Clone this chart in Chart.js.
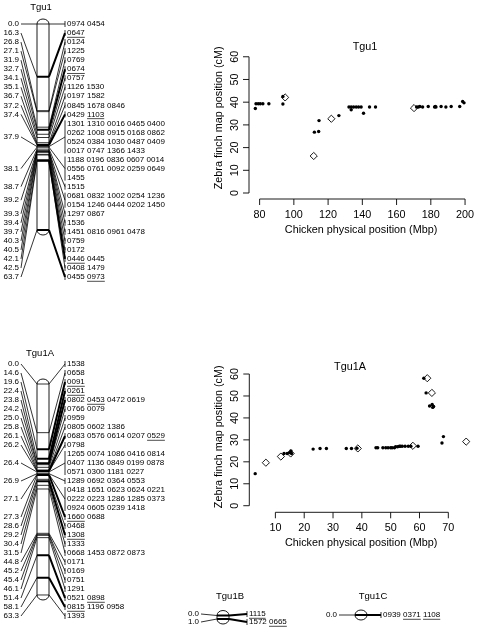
<!DOCTYPE html>
<html>
<head>
<meta charset="utf-8">
<script src="https://cdn.jsdelivr.net/npm/chart.js@4.4.0/dist/chart.umd.min.js"></script>
<style>
html, body { margin: 0; padding: 0; background: #fff; }
#page { position: relative; width: 478px; height: 628px; overflow: hidden; }
.box { position: absolute; }
</style>
</head>
<body>
<div id="page">
  <div class="box" style="left:0;top:0;width:175px;height:290px"><canvas id="mapTgu1"></canvas></div>
  <div class="box" style="left:0;top:340px;width:175px;height:288px"><canvas id="mapTgu1A"></canvas></div>
  <div class="box" style="left:180px;top:585px;width:130px;height:43px"><canvas id="mapTgu1B"></canvas></div>
  <div class="box" style="left:318px;top:585px;width:160px;height:43px"><canvas id="mapTgu1C"></canvas></div>
  <div class="box" style="left:180px;top:20px;width:298px;height:230px"><canvas id="plotTgu1"></canvas></div>
  <div class="box" style="left:180px;top:350px;width:298px;height:230px"><canvas id="plotTgu1A"></canvas></div>
</div>
<script>
// ---- linkage map data (cM positions and the markers at each) ----
const tgu1Positions = [0.0, 16.3, 26.8, 27.1, 31.9, 32.7, 34.1, 35.1, 36.7, 37.2, 37.4, 37.9, 38.1, 38.7,
  39.2, 39.3, 39.4, 39.7, 40.3, 40.5, 42.1, 42.5, 63.7];
const tgu1Markers = [
  ['0974', '0454'], ['0647'], ['0124'], ['1225'], ['0769'], ['0674'], ['0757'], ['1126', '1530'],
  ['0197', '1582'], ['0845', '1678', '0846'], ['0429', '1103'],
  ['1301', '1310', '0016', '0465', '0400', '0262', '1008', '0915', '0168', '0862',
   '0524', '0384', '1030', '0487', '0409', '0017', '0747', '1366', '1433'],
  ['1188', '0196', '0836', '0607', '0014', '0556', '0761', '0092', '0259', '0649', '1455'],
  ['1515'],
  ['0681', '0832', '1002', '0254', '1236', '0154', '1246', '0444', '0202', '1450'],
  ['1297', '0867'], ['1536'], ['1451', '0816', '0961', '0478'], ['0759'], ['0172'],
  ['0446', '0445'], ['0408', '1479'], ['0455', '0973']
];
const tgu1Framework = ['0647', '0674', '1103', '0446', '0973'];

const tgu1aPositions = [0.0, 14.6, 19.6, 22.4, 23.8, 24.2, 25.0, 25.8, 26.1, 26.2, 26.4, 26.9, 27.1,
  27.3, 28.6, 29.2, 30.4, 31.5, 44.8, 45.2, 45.4, 46.1, 51.4, 58.1, 63.3];
const tgu1aMarkers = [
  ['1538'], ['0658'], ['0091'], ['0261'], ['0802', '0453', '0472', '0619'], ['0766', '0079'], ['0959'],
  ['0805', '0602', '1386'], ['0683', '0576', '0614', '0207', '0529'], ['0798'],
  ['1265', '0074', '1086', '0416', '0814', '0407', '1136', '0849', '0199', '0878', '0571', '0300', '1181', '0227'],
  ['1289', '0692', '0364', '0553'],
  ['0418', '1651', '0623', '0624', '0221', '0222', '0223', '1286', '1285', '0373', '0924', '0605', '0239', '1418'],
  ['1660', '0688'], ['0468'], ['1308'], ['1333'], ['0668', '1453', '0872', '0873'], ['0171'], ['0169'],
  ['0751'], ['1291'], ['0521', '0898'], ['0815', '1196', '0958'], ['1393']
];
const tgu1aFramework = ['0091', '0261', '0453', '0529', '1660', '1308', '0898', '0815'];

const tgu1bPositions = [0.0, 1.0];
const tgu1bMarkers = [['1115'], ['1572', '0665']];
const tgu1bFramework = ['1115', '0665'];

const tgu1cPositions = [0.0];
const tgu1cMarkers = [['0939', '0371', '1108']];
const tgu1cFramework = ['0371', '1108'];

// ---- comparative plots: chicken Mbp vs zebra finch cM ----
const tgu1DotMbp = [77.5, 77.9, 79.2, 80.4, 81.9, 85.4, 93.6, 93.6, 112.0, 114.5, 114.7, 126.3, 132.2, 133.5,
  133.5, 134.9, 136.4, 137.8, 139.3, 140.7, 144.2, 147.7, 171.7, 172.7, 173.6, 175.2, 178.5, 182.2, 182.6,
  183.0, 186.0, 188.8, 191.9, 196.9, 198.6, 199.4];
const tgu1DotCm = [37.2, 39.3, 39.3, 39.3, 39.3, 39.3, 39.2, 42.5, 26.8, 27.1, 31.9, 34.1, 37.9, 37.9,
  36.7, 37.9, 37.9, 37.9, 37.9, 35.1, 37.9, 37.9, 37.9, 37.9, 38.1, 37.9, 38.1, 37.9, 38.1,
  37.9, 38.1, 37.9, 38.1, 38.1, 40.3, 39.7];
const tgu1FrameMbp = [94.9, 111.6, 121.9, 170.2];
const tgu1FrameCm = [42.1, 16.3, 32.7, 37.4];

const tgu1aDotMbp = [3.0, 13.0, 14.1, 14.9, 15.4, 15.6, 23.1, 25.5, 27.7, 34.6, 36.4, 38.3, 44.9, 45.5, 47.3,
  48.3, 49.1, 50.0, 50.5, 51.3, 51.7, 52.4, 53.0, 53.4, 54.0, 55.0, 56.1, 57.0, 59.5, 67.8, 68.3,
  61.5, 62.3, 63.5, 64.4, 64.6, 64.9];
const tgu1aDotCm = [14.6, 23.8, 23.8, 24.2, 25.0, 23.8, 25.8, 26.1, 26.1, 26.1, 26.1, 26.2, 26.4, 26.4, 26.4,
  26.4, 26.4, 26.4, 26.4, 26.4, 26.9, 26.9, 27.1, 27.1, 27.1, 27.1, 27.1, 27.1, 27.1, 28.6, 31.5,
  58.1, 51.4, 45.4, 46.1, 44.8, 45.2];
const tgu1aFrameMbp = [6.7, 11.9, 15.3, 38.6, 57.7, 62.7, 64.3, 76.2];
const tgu1aFrameCm = [19.6, 22.4, 23.8, 26.1, 27.3, 58.1, 51.4, 29.2];

const tgu1XTicks = [80, 100, 120, 140, 160, 180, 200];
const tgu1aXTicks = [10, 20, 30, 40, 50, 60, 70];
const cmTicks = [0, 10, 20, 30, 40, 50, 60];

const FONT = '"Liberation Sans", Arial, sans-serif';

// split each position's markers into rows of five names
function buildRows(positions, markers) {
  const rows = [];
  const groups = [];
  positions.forEach((p, i) => {
    const names = markers[i];
    const first = rows.length;
    for (let k = 0; k < names.length; k += 5) rows.push(names.slice(k, k + 5));
    groups.push({ cm: p, first: first, last: rows.length - 1 });
  });
  return { rows, groups };
}

function mapPlugin(cfg, built, framework) {
  return {
    id: 'linkageMap',
    afterDraw(chart) {
      const ctx = chart.ctx;
      const sx = chart.scales.x, sy = chart.scales.y, sr = chart.scales.yRow;
      const chrL = sx.getPixelForValue(cfg.chrLeft);
      const chrR = sx.getPixelForValue(cfg.chrLeft + 12);
      const chrC = (chrL + chrR) / 2;
      const bx = sx.getPixelForValue(cfg.textX - 2);
      const tx = sx.getPixelForValue(cfg.textX);
      const lx = sx.getPixelForValue(19);
      const fs = 8;
      const cms = built.groups.map(g => g.cm);
      const yTop = sy.getPixelForValue(Math.min(...cms));
      const yBot = sy.getPixelForValue(Math.max(...cms));
      const isFrame = g => cfg.markers[built.groups.indexOf(g)].some(m => framework.includes(m));
      ctx.save();
      ctx.strokeStyle = '#000';
      ctx.fillStyle = '#000';

      // left connectors
      ctx.lineWidth = 0.8;
      built.groups.forEach(g => {
        const ry = sr.getPixelForValue((g.first + g.last) / 2);
        ctx.beginPath();
        ctx.moveTo(lx + 2, ry);
        ctx.lineTo(chrL, sy.getPixelForValue(g.cm));
        ctx.stroke();
      });

      // chromosome body with rounded ends
      ctx.lineWidth = 0.9;
      ctx.beginPath();
      ctx.moveTo(chrL, yTop);
      ctx.lineTo(chrL, yBot);
      ctx.ellipse(chrC, yBot, 6, 5, 0, Math.PI, 0, true);
      ctx.lineTo(chrR, yTop);
      ctx.ellipse(chrC, yTop, 6, 5, 0, 0, Math.PI, true);
      ctx.fillStyle = '#fff';
      ctx.fill();
      ctx.stroke();
      ctx.fillStyle = '#000';

      // locus lines and right connectors
      built.groups.forEach(g => {
        const cy = sy.getPixelForValue(g.cm);
        const y1 = sr.getPixelForValue(g.first);
        const y2 = sr.getPixelForValue(g.last);
        const ry = (y1 + y2) / 2;
        const w = isFrame(g) ? 2 : 0.8;
        ctx.lineWidth = w;
        ctx.beginPath();
        ctx.moveTo(chrL, cy);
        ctx.lineTo(chrR, cy);
        ctx.moveTo(chrR, cy);
        ctx.lineTo(bx, ry);
        ctx.stroke();
        ctx.lineWidth = 0.8;
        ctx.beginPath();
        ctx.moveTo(bx, y1 - 3);
        ctx.lineTo(bx, y2 + 3);
        ctx.stroke();
      });

      // labels
      ctx.font = fs + 'px ' + FONT;
      ctx.textBaseline = 'middle';
      ctx.textAlign = 'right';
      built.groups.forEach(g => {
        ctx.fillText(g.cm.toFixed(1), lx, sr.getPixelForValue((g.first + g.last) / 2));
      });
      ctx.textAlign = 'left';
      const space = ctx.measureText(' ').width;
      ctx.lineWidth = 0.7;
      built.rows.forEach((row, i) => {
        const ry = sr.getPixelForValue(i);
        let x = tx;
        row.forEach(name => {
          const w = ctx.measureText(name).width;
          ctx.fillText(name, x, ry);
          if (framework.includes(name)) {
            ctx.beginPath();
            ctx.moveTo(x, ry + 4.3);
            ctx.lineTo(x + w, ry + 4.3);
            ctx.stroke();
          }
          x += w + space;
        });
      });

      // title
      ctx.font = '9.5px ' + FONT;
      ctx.textAlign = 'center';
      ctx.fillText(cfg.title, sx.getPixelForValue(cfg.titleX), cfg.titleY);
      ctx.restore();
    }
  };
}

function makeMap(id, cfg) {
  const built = buildRows(cfg.positions, cfg.markers);
  const n = built.rows.length;
  const areaTop = cfg.rowTop - cfg.rowStep / 2;
  const areaH = n * cfg.rowStep;
  const cmMin = -(cfg.cmZero - areaTop) / cfg.pxPerCm;
  const cmMax = cmMin + areaH / cfg.pxPerCm;
  new Chart(document.getElementById(id), {
    type: 'scatter',
    data: {
      datasets: [{
        data: cfg.positions.map(p => ({ x: cfg.chrLeft + 6, y: p })),
        pointRadius: 0,
        yAxisID: 'y'
      }]
    },
    options: {
      responsive: true,
      maintainAspectRatio: false,
      animation: false,
      events: [],
      layout: { padding: { top: areaTop, bottom: cfg.height - areaTop - areaH, left: 0, right: 0 } },
      plugins: { legend: { display: false }, tooltip: { enabled: false } },
      scales: {
        x: { type: 'linear', display: false, min: 0, max: cfg.width },
        y: { type: 'linear', display: false, reverse: true, min: cmMin, max: cmMax },
        yRow: { type: 'linear', axis: 'y', position: 'left', display: false, reverse: true, min: -0.5, max: n - 0.5 }
      }
    },
    plugins: [mapPlugin(cfg, built, cfg.framework)]
  });
}

makeMap('mapTgu1', {
  title: 'Tgu1', titleX: 41, titleY: 7, width: 175, height: 290,
  positions: tgu1Positions, markers: tgu1Markers, framework: tgu1Framework,
  rowTop: 24, rowStep: 9.036, cmZero: 24, pxPerCm: 3.234, chrLeft: 37, textX: 67
});
makeMap('mapTgu1A', {
  title: 'Tgu1A', titleX: 40, titleY: 13, width: 175, height: 288,
  positions: tgu1aPositions, markers: tgu1aMarkers, framework: tgu1aFramework,
  rowTop: 24, rowStep: 9.0, cmZero: 44, pxPerCm: 3.333, chrLeft: 37, textX: 67
});
makeMap('mapTgu1B', {
  title: 'Tgu1B', titleX: 50, titleY: 11, width: 130, height: 43,
  positions: tgu1bPositions, markers: tgu1bMarkers, framework: tgu1bFramework,
  rowTop: 29, rowStep: 8, cmZero: 30.5, pxPerCm: 3.5, chrLeft: 37, textX: 69
});
makeMap('mapTgu1C', {
  title: 'Tgu1C', titleX: 55, titleY: 11, width: 160, height: 43,
  positions: tgu1cPositions, markers: tgu1cMarkers, framework: tgu1cFramework,
  rowTop: 30, rowStep: 8, cmZero: 30, pxPerCm: 3.3, chrLeft: 37, textX: 65
});

// base-R style axes drawn from the chart scales
function rAxes(cfg) {
  return {
    id: 'rAxes',
    afterDraw(chart) {
      const ctx = chart.ctx, a = chart.chartArea;
      const sx = chart.scales.x, sy = chart.scales.y;
      ctx.save();
      ctx.strokeStyle = '#000';
      ctx.fillStyle = '#000';
      ctx.lineWidth = 0.9;
      ctx.font = '10.8px ' + FONT;
      // x axis
      const xa = cfg.xTicks.map(v => sx.getPixelForValue(v));
      ctx.beginPath();
      ctx.moveTo(xa[0], a.bottom);
      ctx.lineTo(xa[xa.length - 1], a.bottom);
      xa.forEach(p => { ctx.moveTo(p, a.bottom); ctx.lineTo(p, a.bottom + 6); });
      ctx.stroke();
      ctx.textAlign = 'center';
      ctx.textBaseline = 'middle';
      cfg.xTicks.forEach((v, i) => ctx.fillText(String(v), xa[i], a.bottom + 16));
      ctx.fillText('Chicken physical position (Mbp)', (a.left + a.right) / 2, a.bottom + 31);
      // y axis
      const ya = cmTicks.map(v => sy.getPixelForValue(v));
      ctx.beginPath();
      ctx.moveTo(a.left, ya[0]);
      ctx.lineTo(a.left, ya[ya.length - 1]);
      ya.forEach(p => { ctx.moveTo(a.left, p); ctx.lineTo(a.left - 6, p); });
      ctx.stroke();
      cmTicks.forEach((v, i) => {
        ctx.save();
        ctx.translate(a.left - 14, ya[i]);
        ctx.rotate(-Math.PI / 2);
        ctx.fillText(String(v), 0, 0);
        ctx.restore();
      });
      ctx.save();
      ctx.translate(a.left - 30, (a.top + a.bottom) / 2 + cfg.yTitleShift);
      ctx.rotate(-Math.PI / 2);
      ctx.fillText('Zebra finch map position (cM)', 0, 0);
      ctx.restore();
      // title inside the top of the plot
      ctx.fillText(cfg.title, a.left + cfg.titleDx, a.top + cfg.titleDy);
      ctx.restore();
    }
  };
}

function makePlot(id, cfg) {
  const dots = cfg.dotX.map((x, i) => ({ x: x, y: cfg.dotY[i] }));
  const frames = cfg.frameX.map((x, i) => ({ x: x, y: cfg.frameY[i] }));
  new Chart(document.getElementById(id), {
    type: 'scatter',
    data: {
      datasets: [
        { data: dots, pointStyle: 'circle', pointRadius: 1.7, backgroundColor: '#000', borderColor: '#000', borderWidth: 0 },
        { data: frames, pointStyle: 'rectRot', pointRadius: 3.6, backgroundColor: 'rgba(0,0,0,0)', borderColor: '#000', borderWidth: 0.9 }
      ]
    },
    options: {
      responsive: true,
      maintainAspectRatio: false,
      animation: false,
      events: [],
      layout: { padding: cfg.padding },
      plugins: { legend: { display: false }, tooltip: { enabled: false } },
      scales: {
        x: { type: 'linear', display: false, min: cfg.xMin, max: cfg.xMax },
        y: { type: 'linear', display: false, min: cfg.yMin, max: cfg.yMax }
      }
    },
    plugins: [rAxes(cfg)]
  });
}

makePlot('plotTgu1', {
  title: 'Tgu1', titleDx: 116, titleDy: 4.5, yTitleShift: -3,
  dotX: tgu1DotMbp, dotY: tgu1DotCm, frameX: tgu1FrameMbp, frameY: tgu1FrameCm,
  xTicks: tgu1XTicks,
  padding: { left: 69, right: 4, top: 22.7, bottom: 51 },
  xMin: 73.8, xMax: 204.7, yMin: -2.64, yMax: 66.2
});
makePlot('plotTgu1A', {
  title: 'Tgu1A', titleDx: 100.7, titleDy: 5.7, yTitleShift: 0,
  dotX: tgu1aDotMbp, dotY: tgu1aDotCm, frameX: tgu1aFrameMbp, frameY: tgu1aFrameCm,
  xTicks: tgu1aXTicks,
  padding: { left: 69.3, right: 2.2, top: 11.3, bottom: 67.7 },
  xMin: 0.95, xMax: 78.6, yMin: -3.0, yMax: 65.8
});
</script>
</body>
</html>
